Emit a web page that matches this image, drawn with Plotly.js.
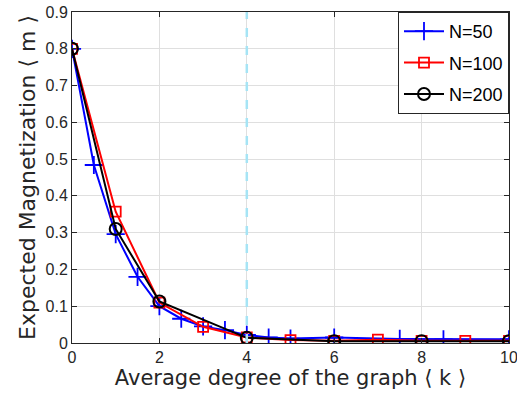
<!DOCTYPE html>
<html>
<head>
<meta charset="utf-8">
<script src="https://cdn.plot.ly/plotly-3.0.1.min.js"></script>
<style>html,body{margin:0;padding:0;background:#fff;}#chart{width:517px;height:395px;}</style>
</head>
<body>
<div id="chart"></div>
<script>
const x50 = [0, 0.5, 1, 1.5, 2, 2.5, 3, 3.5, 4, 4.5, 5, 6, 7.5, 8.5, 10];
const y50 = [0.80, 0.484, 0.296, 0.18, 0.10, 0.066, 0.045, 0.035, 0.022, 0.015, 0.012, 0.015, 0.011, 0.010, 0.010];
const x100 = [0, 1, 2, 3, 4, 5, 6, 7, 8, 9, 10];
const y100 = [0.80, 0.357, 0.11, 0.044, 0.015, 0.008, 0.006, 0.009, 0.006, 0.006, 0.006];
const x200 = [0, 1, 2, 4, 6, 8, 10];
const y200 = [0.80, 0.31, 0.113, 0.014, 0.005, 0.005, 0.005];
const names = ['N=50', 'N=100', 'N=200'];
const threshold = 4;
const xTicks = [0, 2, 4, 6, 8, 10];
const yTicks = [0, 0.1, 0.2, 0.3, 0.4, 0.5, 0.6, 0.7, 0.8, 0.9];
const yTickLabels = ['0', '0.1', '0.2', '0.3', '0.4', '0.5', '0.6', '0.7', '0.8', '0.9'];

const traces = [
  {x: x50, y: y50, name: names[0], mode: 'lines+markers', legendgroup: 'a',
   line: {color: '#0000ff', width: 2},
   marker: {symbol: 'cross-thin-open', size: 13, line: {color: '#0000ff', width: 1.8}}},
  {x: x100, y: y100, name: names[1], mode: 'lines+markers', legendgroup: 'b',
   line: {color: '#ff0000', width: 2},
   marker: {symbol: 'square-open', size: 10, color: '#ff0000', line: {color: '#ff0000', width: 1.8}}},
  {x: x200, y: y200, name: names[2], mode: 'lines+markers', legendgroup: 'c',
   line: {color: '#000000', width: 2},
   marker: {symbol: 'circle-open', size: 12, color: '#000000', line: {color: '#000000', width: 2}}}
];

const titleFont = 'DejaVu Sans, Liberation Sans, sans-serif';
const layout = {
  width: 517, height: 395,
  margin: {l: 72, r: 8, t: 12, b: 52},
  paper_bgcolor: '#ffffff', plot_bgcolor: '#ffffff',
  font: {family: 'Liberation Sans, Arial, sans-serif', color: '#262626', size: 16},
  showlegend: true,
  legend: {x: 1, y: 1, xanchor: 'right', yanchor: 'top', bgcolor: '#ffffff',
    bordercolor: '#262626', borderwidth: 1, font: {size: 18, color: '#000000'},
    tracegroupgap: 5, itemwidth: 40},
  xaxis: {range: [0, 10], tickvals: xTicks, ticktext: xTicks.map(String),
    ticks: 'inside', ticklen: 5, tickcolor: '#262626', mirror: 'ticks',
    showline: true, linecolor: '#262626', linewidth: 1, ticklabeloverflow: 'allow',
    showgrid: true, gridcolor: '#dfdfdf', gridwidth: 1, zeroline: false,
    title: {text: 'Average degree of the graph \u27E8 k \u27E9', font: {size: 21, color: '#262626', family: titleFont}, standoff: 4},
    tickfont: {size: 16}},
  yaxis: {range: [0, 0.9], tickvals: yTicks, ticktext: yTickLabels,
    ticks: 'inside', ticklen: 5, tickcolor: '#262626', mirror: 'ticks',
    showline: true, linecolor: '#262626', linewidth: 1, ticklabeloverflow: 'allow',
    showgrid: true, gridcolor: '#dfdfdf', gridwidth: 1, zeroline: false,
    title: {text: 'Expected Magnetization \u27E8 m \u27E9', font: {size: 22, color: '#262626', family: titleFont}, standoff: 3},
    tickfont: {size: 16}},
  shapes: [{type: 'line', xref: 'x', yref: 'paper', x0: threshold, x1: threshold, y0: 0, y1: 1,
    line: {color: '#a6e4f5', width: 2.5, dash: 'dash'}, layer: 'above'}]
};

Plotly.newPlot('chart', traces, layout, {displayModeBar: false, staticPlot: true});
</script>
</body>
</html>
